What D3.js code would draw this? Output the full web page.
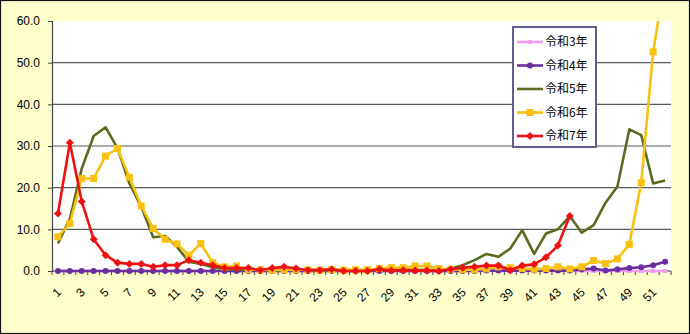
<!DOCTYPE html>
<html><head><meta charset="utf-8">
<script src="https://cdn.jsdelivr.net/npm/d3@7"></script>
<style>html,body{margin:0;padding:0;background:#FFFFCC;}svg{display:block;}</style>
</head><body>
<svg id="chart" width="690" height="334"></svg>
<script>
const weeks = d3.range(1, 53);
const tickLabels = d3.range(1, 53, 2);
const seriesNames = ["令和3年", "令和4年", "令和5年", "令和6年", "令和7年"];
const r3 = weeks.map(() => 0);
const r4 = [0,0,0,0,0,0,0,0,0,0, 0,0,0,0,0,0,0,0,0,0, 0,0,0,0,0,0,0,0,0,0, 0,0,0,0,0,0,0.1,0.1,0.1,0.1, 0.1,0.1,0.1,0.1,0.4,0.6,0.1,0.4,0.7,0.9, 1.4,2.2];
const r5 = [6.6,12.5,24.6,32.4,34.5,29.5,21.0,15.4,8.1,8.4, 5.8,2.2,1.7,0.9,0.4,0.3,0.3,0.3,0.2,0.3, 0.3,0.2,0.2,0.3,0.2,0.2,0.2,0.3,0.3,0.3, 0.3,0.2,0.2,0.6,1.4,2.6,4.1,3.4,5.4,9.8, 4.1,9.0,10.0,13.2,9.2,11.0,16.4,20.3,34.0,32.6, 21.0,21.7];
const r6 = [8.2,11.4,22.2,22.2,27.6,29.4,22.5,15.6,10.2,7.6, 6.5,3.8,6.6,2.0,1.0,1.2,0.3,0.3,0.2,0.3, 0.3,0.3,0.2,0.3,0.2,0.3,0.3,0.6,0.8,0.8, 1.2,1.2,0.6,0.4,0.3,0.3,0.5,1.0,0.8,0.6, 0.4,0.6,1.0,0.5,1.0,2.5,1.8,2.9,6.4,21.2, 52.6,70.0];
const r7 = [13.8,30.8,16.7,7.6,3.8,2.0,1.7,1.7,1.0,1.4, 1.4,2.6,2.0,1.4,0.7,0.7,0.7,0.2,0.7,1.0, 0.6,0.2,0.2,0.4,0.0,0.0,0.0,0.4,0.1,0.2, 0.1,0.1,0.0,0.4,0.8,1.0,1.3,1.3,0.2,1.3, 1.6,3.3,6.1,13.2];
const yTicks = [0,10,20,30,40,50,60];

const svg = d3.select("#chart");
const L = 52, R = 671, T = 21, B = 271;
const x = d3.scaleBand().domain(weeks).range([L, R]).padding(0);
const y = d3.scaleLinear().domain([0, 60]).range([B, T]);
const cx = w => x(w) + x.bandwidth() / 2;

svg.append("rect").attr("x",0.5).attr("y",0.5).attr("width",689).attr("height",333)
  .attr("fill","#FFFFCC").attr("stroke","#111").attr("stroke-width",1.2);
svg.append("rect").attr("x",L).attr("y",T).attr("width",R-L).attr("height",B-T).attr("fill","#fff");

// gridlines
svg.append("g").selectAll("line").data(yTicks.filter(v => v > 0 && v < 60)).join("line")
  .attr("x1",L).attr("x2",R).attr("y1",d=>y(d)).attr("y2",d=>y(d))
  .attr("stroke","#5a5a5a").attr("stroke-width",1.2);

// y axis
const yAxis = svg.append("g").attr("transform",`translate(${L},0)`)
  .call(d3.axisLeft(y).tickValues(yTicks).tickSize(4).tickPadding(8).tickFormat(d3.format(".1f")));
yAxis.select(".domain").attr("stroke","#444").attr("stroke-width",1.2);
yAxis.selectAll(".tick line").attr("stroke","#444");
yAxis.selectAll("text").attr("font-family","'Liberation Sans', Arial, sans-serif").attr("font-size",12).attr("fill","#000");

// x axis
svg.append("line").attr("x1",L).attr("x2",R).attr("y1",B).attr("y2",B).attr("stroke","#444").attr("stroke-width",1.2);
svg.append("g").selectAll("line").data(weeks.concat([53])).join("line")
  .attr("x1",d => d===53 ? R : x(d)).attr("x2",d => d===53 ? R : x(d))
  .attr("y1",B).attr("y2",B+4).attr("stroke","#444");
svg.append("g").selectAll("text").data(tickLabels).join("text")
  .attr("transform",d=>`translate(${cx(d)+1},${B+19}) rotate(-45)`)
  .attr("text-anchor","end").attr("dy","0.35em")
  .attr("font-family","'Liberation Sans', Arial, sans-serif").attr("font-size",12).attr("fill","#000")
  .text(d=>d);

// clip
svg.append("clipPath").attr("id","plotclip").append("rect").attr("x",L).attr("y",T).attr("width",R-L+2).attr("height",B-T+6);

const series = [
  {name:seriesNames[0], data:r3, color:"#F09CF0", marker:"square", ms:4},
  {name:seriesNames[1], data:r4, color:"#6B2FA0", marker:"circle", ms:6},
  {name:seriesNames[2], data:r5, color:"#5A6B22", marker:"none", ms:0},
  {name:seriesNames[3], data:r6, color:"#F8C010", marker:"square", ms:7},
  {name:seriesNames[4], data:r7, color:"#EE1111", marker:"diamond", ms:8}
];
const line = d3.line().x((d,i)=>cx(weeks[i])).y(d=>y(d));
const g = svg.append("g").attr("clip-path","url(#plotclip)");

function drawMarker(sel, s, px, py) {
  if (s.marker === "circle") sel.append("circle").attr("cx",px).attr("cy",py).attr("r",s.ms/2).attr("fill",s.color);
  else if (s.marker === "square") sel.append("rect").attr("x",px-s.ms/2).attr("y",py-s.ms/2).attr("width",s.ms).attr("height",s.ms).attr("fill",s.color);
  else if (s.marker === "diamond") { const r=s.ms/2; sel.append("path").attr("d",`M${px},${py-r}L${px+r},${py}L${px},${py+r}L${px-r},${py}Z`).attr("fill",s.color); }
}

series.forEach(s => {
  g.append("path").datum(s.data).attr("d",line).attr("fill","none")
    .attr("stroke",s.color).attr("stroke-width",2.6).attr("stroke-linejoin","round");
  s.data.forEach((v,i) => { if (v <= 60) drawMarker(g, s, cx(weeks[i]), y(v)); });
});

// legend
const lg = svg.append("g");
lg.append("rect").attr("x",513).attr("y",27).attr("width",83).attr("height",120)
  .attr("fill","#fff").attr("stroke","#5F5F8F").attr("stroke-width",2);
series.forEach((s,i) => {
  const ly = 42 + i*23.5;
  lg.append("line").attr("x1",517).attr("x2",543).attr("y1",ly).attr("y2",ly).attr("stroke",s.color).attr("stroke-width",2.6);
  drawMarker(lg, s, 530, ly);
  lg.append("text").attr("x",545).attr("y",ly).attr("dy","0.36em")
    .attr("font-family","'Noto Sans CJK JP', sans-serif").attr("font-size",12).attr("fill","#000").text(s.name);
});
</script>
</body></html>
